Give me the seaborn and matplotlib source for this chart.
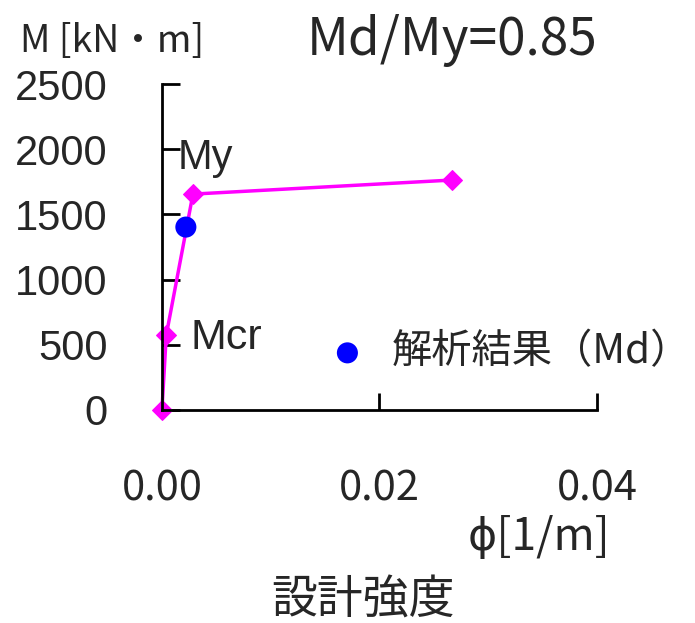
import numpy as np
import pandas as pd
import seaborn as sns
import matplotlib.pyplot as plt

# design strength curve (phi, M)
phi = [0.0, 0.0004, 0.00285, 0.0267]
moment = [0, 575, 1656, 1764]
# analysis result
md_phi = [0.0022]
md_moment = [1403]

sns.set_style("ticks")
plt.rcParams['font.family'] = ['Noto Sans CJK JP', 'DejaVu Sans']
arial = ['Liberation Sans', 'DejaVu Sans']

df = pd.DataFrame({'phi': phi, 'M': moment})
dm = pd.DataFrame({'phi': md_phi, 'M': md_moment})

fig = plt.figure(figsize=(6.95, 6.23), dpi=100)
ax = fig.add_axes([0.233, 0.342, 0.626, 0.523])

sns.lineplot(data=df, x='phi', y='M', color='#FF00FF', marker='D', markersize=10,
             markeredgecolor='#FF00FF', linewidth=2.5, ax=ax)
for ln in ax.lines:
    ln.set_clip_on(False)
sns.scatterplot(data=dm, x='phi', y='M', color='#0000FF', s=230, edgecolor='none',
                label='解析結果（Md）', ax=ax, zorder=5, clip_on=False)

ax.set_xlim(0, 0.04)
ax.set_ylim(0, 2500)
ax.set_xticks([0.0, 0.02, 0.04])
ax.set_xticklabels(['0.00', '0.02', '0.04'], fontsize=30)
ax.set_yticks([0, 500, 1000, 1500, 2000, 2500])
ax.set_yticklabels(['0', '500', '1000', '1500', '2000', '2500'], fontsize=30, family=arial)
ax.tick_params(axis='both', direction='in', width=2, color='black')
ax.tick_params(axis='y', length=13, pad=39)
ax.tick_params(axis='x', length=12, pad=42)
for s in ['left', 'bottom']:
    ax.spines[s].set_linewidth(2)
    ax.spines[s].set_color('black')
sns.despine(ax=ax)
ax.set_xlabel('')
ax.set_ylabel('')

ax.text(0.00147, 1932, 'My', fontsize=30, va='center', ha='left', family=arial)
ax.text(0.0026, 552, 'Mcr', fontsize=31, va='center', ha='left', family=arial)

leg = ax.legend(loc='center left', bbox_to_anchor=(0.38, 0.178), frameon=False,
                fontsize=29, handlelength=1.0, handletextpad=0.6,
                borderpad=0, borderaxespad=0)

fig.text(20 / 695, 1 - 42 / 623, 'M [kN・m]', fontsize=27, va='center', ha='left')
fig.text(452 / 695, 1 - 40 / 623, 'Md/My=0.85', fontsize=37, va='center', ha='center')
fig.text(610 / 695, 1 - 537 / 623, 'ϕ[1/m]', fontsize=32, va='center', ha='right')
fig.text(363 / 695, 1 - 600 / 623, '設計強度', fontsize=33, va='center', ha='center')

fig.savefig('out.png', dpi=100)
